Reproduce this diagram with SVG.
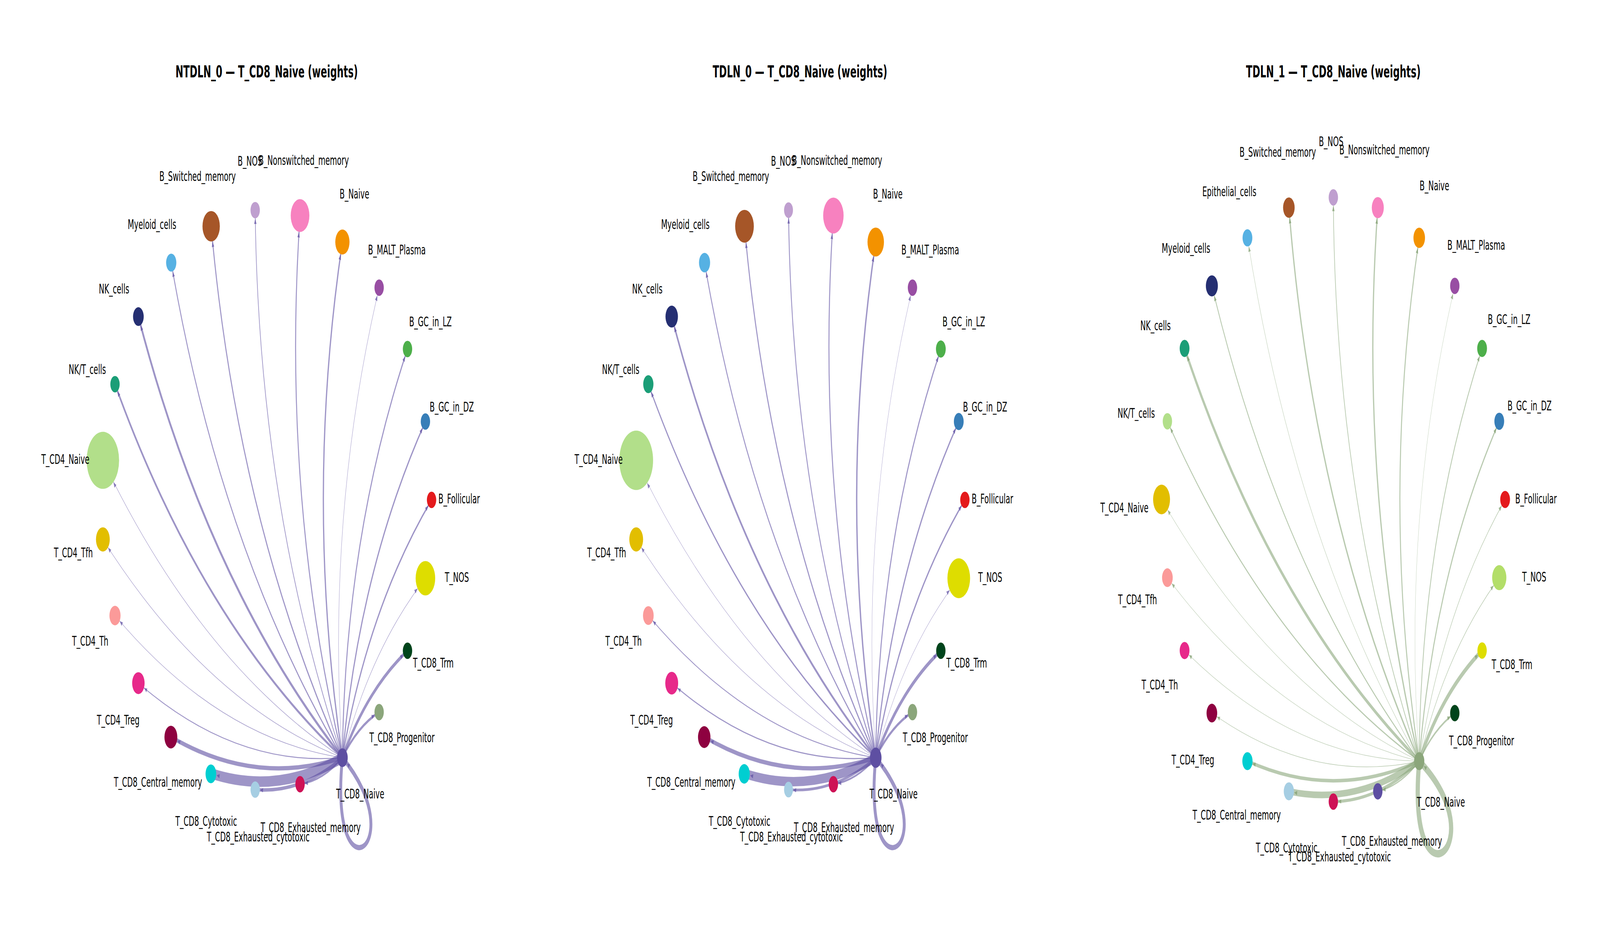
<svg xmlns="http://www.w3.org/2000/svg" width="7200" height="2400" viewBox="0 0 7200 2400" preserveAspectRatio="none">
<style>
svg{width:100vw;height:100vh}
.bg{fill:#ffffff}
.title{font-family:"DejaVu Sans","Liberation Sans",sans-serif;font-weight:bold;font-size:42px;fill:#000;text-anchor:middle}
.lbl{font-family:"DejaVu Sans","Liberation Sans",sans-serif;font-size:33px;fill:#000;text-anchor:middle;dominant-baseline:central}
.ep{fill:none;stroke:#5e4fa2;stroke-opacity:0.6}
.eg{fill:none;stroke:#8ba67b;stroke-opacity:0.6}
.ahp{fill:#5e4fa2;fill-opacity:0.7}
.ahg{fill:#7f9c6e;fill-opacity:0.7}
</style>
<defs>
<marker id="p20" markerUnits="userSpaceOnUse" viewBox="-120 -10 120 20" markerWidth="120" markerHeight="20" refX="0" refY="0" orient="auto" overflow="visible"><path class="ahp" d="M-21 0L-34.3 -5.5L-34.3 5.5Z"/></marker>
<marker id="p21" markerUnits="userSpaceOnUse" viewBox="-120 -10 120 20" markerWidth="120" markerHeight="20" refX="0" refY="0" orient="auto" overflow="visible"><path class="ahp" d="M-22 0L-35.3 -5.5L-35.3 5.5Z"/></marker>
<marker id="p22" markerUnits="userSpaceOnUse" viewBox="-120 -10 120 20" markerWidth="120" markerHeight="20" refX="0" refY="0" orient="auto" overflow="visible"><path class="ahp" d="M-23 0L-36.3 -5.5L-36.3 5.5Z"/></marker>
<marker id="p23" markerUnits="userSpaceOnUse" viewBox="-120 -10 120 20" markerWidth="120" markerHeight="20" refX="0" refY="0" orient="auto" overflow="visible"><path class="ahp" d="M-24 0L-37.3 -5.5L-37.3 5.5Z"/></marker>
<marker id="p24" markerUnits="userSpaceOnUse" viewBox="-120 -10 120 20" markerWidth="120" markerHeight="20" refX="0" refY="0" orient="auto" overflow="visible"><path class="ahp" d="M-25 0L-38.3 -5.5L-38.3 5.5Z"/></marker>
<marker id="p25" markerUnits="userSpaceOnUse" viewBox="-120 -10 120 20" markerWidth="120" markerHeight="20" refX="0" refY="0" orient="auto" overflow="visible"><path class="ahp" d="M-26 0L-39.3 -5.5L-39.3 5.5Z"/></marker>
<marker id="p26" markerUnits="userSpaceOnUse" viewBox="-120 -10 120 20" markerWidth="120" markerHeight="20" refX="0" refY="0" orient="auto" overflow="visible"><path class="ahp" d="M-27 0L-40.3 -5.5L-40.3 5.5Z"/></marker>
<marker id="p28" markerUnits="userSpaceOnUse" viewBox="-120 -10 120 20" markerWidth="120" markerHeight="20" refX="0" refY="0" orient="auto" overflow="visible"><path class="ahp" d="M-29 0L-42.3 -5.5L-42.3 5.5Z"/></marker>
<marker id="p29" markerUnits="userSpaceOnUse" viewBox="-120 -10 120 20" markerWidth="120" markerHeight="20" refX="0" refY="0" orient="auto" overflow="visible"><path class="ahp" d="M-30 0L-43.3 -5.5L-43.3 5.5Z"/></marker>
<marker id="p31" markerUnits="userSpaceOnUse" viewBox="-120 -10 120 20" markerWidth="120" markerHeight="20" refX="0" refY="0" orient="auto" overflow="visible"><path class="ahp" d="M-32 0L-45.3 -5.5L-45.3 5.5Z"/></marker>
<marker id="p32" markerUnits="userSpaceOnUse" viewBox="-120 -10 120 20" markerWidth="120" markerHeight="20" refX="0" refY="0" orient="auto" overflow="visible"><path class="ahp" d="M-33 0L-46.3 -5.5L-46.3 5.5Z"/></marker>
<marker id="p37" markerUnits="userSpaceOnUse" viewBox="-120 -10 120 20" markerWidth="120" markerHeight="20" refX="0" refY="0" orient="auto" overflow="visible"><path class="ahp" d="M-38 0L-51.3 -5.5L-51.3 5.5Z"/></marker>
<marker id="p39" markerUnits="userSpaceOnUse" viewBox="-120 -10 120 20" markerWidth="120" markerHeight="20" refX="0" refY="0" orient="auto" overflow="visible"><path class="ahp" d="M-40 0L-53.3 -5.5L-53.3 5.5Z"/></marker>
<marker id="p42" markerUnits="userSpaceOnUse" viewBox="-120 -10 120 20" markerWidth="120" markerHeight="20" refX="0" refY="0" orient="auto" overflow="visible"><path class="ahp" d="M-43 0L-56.3 -5.5L-56.3 5.5Z"/></marker>
<marker id="p44" markerUnits="userSpaceOnUse" viewBox="-120 -10 120 20" markerWidth="120" markerHeight="20" refX="0" refY="0" orient="auto" overflow="visible"><path class="ahp" d="M-45 0L-58.3 -5.5L-58.3 5.5Z"/></marker>
<marker id="p46" markerUnits="userSpaceOnUse" viewBox="-120 -10 120 20" markerWidth="120" markerHeight="20" refX="0" refY="0" orient="auto" overflow="visible"><path class="ahp" d="M-47 0L-60.3 -5.5L-60.3 5.5Z"/></marker>
<marker id="p51" markerUnits="userSpaceOnUse" viewBox="-120 -10 120 20" markerWidth="120" markerHeight="20" refX="0" refY="0" orient="auto" overflow="visible"><path class="ahp" d="M-52 0L-65.3 -5.5L-65.3 5.5Z"/></marker>
<marker id="p73" markerUnits="userSpaceOnUse" viewBox="-120 -10 120 20" markerWidth="120" markerHeight="20" refX="0" refY="0" orient="auto" overflow="visible"><path class="ahp" d="M-74 0L-87.3 -5.5L-87.3 5.5Z"/></marker>
<marker id="p76" markerUnits="userSpaceOnUse" viewBox="-120 -10 120 20" markerWidth="120" markerHeight="20" refX="0" refY="0" orient="auto" overflow="visible"><path class="ahp" d="M-77 0L-90.3 -5.5L-90.3 5.5Z"/></marker>
<marker id="g21" markerUnits="userSpaceOnUse" viewBox="-120 -10 120 20" markerWidth="120" markerHeight="20" refX="0" refY="0" orient="auto" overflow="visible"><path class="ahg" d="M-22 0L-35.3 -5.5L-35.3 5.5Z"/></marker>
<marker id="g22" markerUnits="userSpaceOnUse" viewBox="-120 -10 120 20" markerWidth="120" markerHeight="20" refX="0" refY="0" orient="auto" overflow="visible"><path class="ahg" d="M-23 0L-36.3 -5.5L-36.3 5.5Z"/></marker>
<marker id="g23" markerUnits="userSpaceOnUse" viewBox="-120 -10 120 20" markerWidth="120" markerHeight="20" refX="0" refY="0" orient="auto" overflow="visible"><path class="ahg" d="M-24 0L-37.3 -5.5L-37.3 5.5Z"/></marker>
<marker id="g24" markerUnits="userSpaceOnUse" viewBox="-120 -10 120 20" markerWidth="120" markerHeight="20" refX="0" refY="0" orient="auto" overflow="visible"><path class="ahg" d="M-25 0L-38.3 -5.5L-38.3 5.5Z"/></marker>
<marker id="g26" markerUnits="userSpaceOnUse" viewBox="-120 -10 120 20" markerWidth="120" markerHeight="20" refX="0" refY="0" orient="auto" overflow="visible"><path class="ahg" d="M-27 0L-40.3 -5.5L-40.3 5.5Z"/></marker>
<marker id="g27" markerUnits="userSpaceOnUse" viewBox="-120 -10 120 20" markerWidth="120" markerHeight="20" refX="0" refY="0" orient="auto" overflow="visible"><path class="ahg" d="M-28 0L-41.3 -5.5L-41.3 5.5Z"/></marker>
<marker id="g32" markerUnits="userSpaceOnUse" viewBox="-120 -10 120 20" markerWidth="120" markerHeight="20" refX="0" refY="0" orient="auto" overflow="visible"><path class="ahg" d="M-33 0L-46.3 -5.5L-46.3 5.5Z"/></marker>
<marker id="g38" markerUnits="userSpaceOnUse" viewBox="-120 -10 120 20" markerWidth="120" markerHeight="20" refX="0" refY="0" orient="auto" overflow="visible"><path class="ahg" d="M-39 0L-52.3 -5.5L-52.3 5.5Z"/></marker>
</defs>
<rect class="bg" x="0" y="0" width="7200" height="2400"/>

<text class="title" x="1200" y="198">NTDLN_0 — T_CD8_Naive (weights)</text>
<text class="title" x="3600" y="198">TDLN_0 — T_CD8_Naive (weights)</text>
<text class="title" x="6000" y="198">TDLN_1 — T_CD8_Naive (weights)</text>

<!-- PANEL 1 -->
<g id="panel1" transform="translate(1199 1279)">
<g id="p1-connectors">
<path class="ep" stroke-width="5" marker-end="url(#p21)" d="M341.8 659.7Q456.6 277.7 743 0"/>
<path class="ep" stroke-width="5" marker-end="url(#p21)" d="M341.8 659.7Q416.8 181 715.4 -200.5"/>
<path class="ep" stroke-width="4.5" marker-end="url(#p21)" d="M341.8 659.7Q352.4 98.8 634.8 -386"/>
<path class="ep" stroke-width="1.5" marker-end="url(#p21)" d="M341.8 659.7Q268.1 36.9 507.1 -543"/>
<path class="ep" stroke-width="5.5" marker-end="url(#p32)" d="M341.8 659.7Q170.3 0 341.8 -659.7"/>
<path class="ep" stroke-width="4.5" marker-end="url(#p42)" d="M341.8 659.7Q66.2 -9.1 151.2 -727.5"/>
<path class="ep" stroke-width="3" marker-end="url(#p21)" d="M341.8 659.7Q-36.6 10.2 -50.7 -741.3"/>
<path class="ep" stroke-width="4.5" marker-end="url(#p39)" d="M341.8 659.7Q-130.3 56.6 -248.8 -700.1"/>
<path class="ep" stroke-width="4" marker-end="url(#p23)" d="M341.8 659.7Q-208 126.5 -428.5 -607"/>
<path class="ep" stroke-width="7.5" marker-end="url(#p24)" d="M341.8 659.7Q-264 214.8 -576.3 -468.9"/>
<path class="ep" stroke-width="6.5" marker-end="url(#p21)" d="M341.8 659.7Q-294.1 314.9 -681.5 -296"/>
<path class="ep" stroke-width="1.5" marker-end="url(#p73)" d="M341.8 659.7Q-296.1 419.4 -736.1 -101.2"/>
<path class="ep" stroke-width="1.5" marker-end="url(#p31)" d="M341.8 659.7Q-269.8 520.6 -736.1 101.2"/>
<path class="ep" stroke-width="1.5" marker-end="url(#p25)" d="M341.8 659.7Q-217.1 610.9 -681.5 296"/>
<path class="ep" stroke-width="2.5" marker-end="url(#p28)" d="M341.8 659.7Q-142.1 683.7 -576.3 468.9"/>
<path class="ep" stroke-width="11" marker-end="url(#p28)" d="M341.8 659.7Q-50.2 733.5 -428.5 607"/>
<path class="ep" stroke-width="27" marker-end="url(#p24)" d="M341.8 659.7Q51.8 756.7 -248.8 700.1"/>
<path class="ep" stroke-width="9" marker-end="url(#p21)" d="M341.8 659.7Q156.2 751.5 -50.7 741.3"/>
<path class="ep" stroke-width="5" marker-end="url(#p21)" d="M341.8 659.7Q255.3 718.4 151.2 727.5"/>
<path class="ep" stroke-width="7" marker-end="url(#p21)" d="M341.8 659.7Q409.3 579.9 507.1 543"/>
<path class="ep" stroke-width="9.5" marker-end="url(#p21)" d="M341.8 659.7Q452.7 484.8 634.8 386"/>
<path class="ep" stroke-width="1.5" marker-end="url(#p44)" d="M341.8 659.7Q468.9 381.5 715.4 200.5"/>
<path class="ep" stroke-width="13" marker-end="url(#p24)" d="M341.8 659.7C276.9 1041.9 660.5 880.5 341.8 659.7"/>
</g>
<g id="p1-B_Follicular"><circle cx="743" cy="0" r="21" fill="#e41a1c"/><text class="lbl" x="867" y="-3">B_Follicular</text></g>
<g id="p1-B_GC_in_DZ"><circle cx="715.4" cy="-200.5" r="21" fill="#377eb8"/><text class="lbl" x="834" y="-238">B_GC_in_DZ</text></g>
<g id="p1-B_GC_in_LZ"><circle cx="634.8" cy="-386" r="21" fill="#4daf4a"/><text class="lbl" x="738" y="-456">B_GC_in_LZ</text></g>
<g id="p1-B_MALT_Plasma"><circle cx="507.1" cy="-543" r="21" fill="#984ea3"/><text class="lbl" x="587" y="-640">B_MALT_Plasma</text></g>
<g id="p1-B_Naive"><circle cx="341.8" cy="-659.7" r="32" fill="#f39200"/><text class="lbl" x="396" y="-783">B_Naive</text></g>
<g id="p1-B_Nonswitched_memory"><circle cx="151.2" cy="-727.5" r="42" fill="#f781bf"/><text class="lbl" x="168" y="-869">B_Nonswitched_memory</text></g>
<g id="p1-B_NOS"><circle cx="-50.7" cy="-741.3" r="21" fill="#bf9fcf"/><text class="lbl" x="-74" y="-867">B_NOS</text></g>
<g id="p1-B_Switched_memory"><circle cx="-248.8" cy="-700.1" r="39" fill="#a65628"/><text class="lbl" x="-310" y="-828">B_Switched_memory</text></g>
<g id="p1-Myeloid_cells"><circle cx="-428.5" cy="-607" r="23" fill="#56b1e3"/><text class="lbl" x="-515" y="-705">Myeloid_cells</text></g>
<g id="p1-NK_cells"><circle cx="-576.3" cy="-468.9" r="24" fill="#252f72"/><text class="lbl" x="-686" y="-540">NK_cells</text></g>
<g id="p1-NKT_cells"><circle cx="-681.5" cy="-296" r="21" fill="#1b9e77"/><text class="lbl" x="-806" y="-334">NK/T_cells</text></g>
<g id="p1-T_CD4_Naive"><circle cx="-736.1" cy="-101.2" r="73" fill="#b2df8a"/><text class="lbl" x="-905" y="-104">T_CD4_Naive</text></g>
<g id="p1-T_CD4_Tfh"><circle cx="-736.1" cy="101.2" r="31" fill="#e2be00"/><text class="lbl" x="-869" y="135">T_CD4_Tfh</text></g>
<g id="p1-T_CD4_Th"><circle cx="-681.5" cy="296" r="25" fill="#fb9a99"/><text class="lbl" x="-793" y="361">T_CD4_Th</text></g>
<g id="p1-T_CD4_Treg"><circle cx="-576.3" cy="468.9" r="28" fill="#e7298a"/><text class="lbl" x="-667" y="563">T_CD4_Treg</text></g>
<g id="p1-T_CD8_Central_memory"><circle cx="-430" cy="607" r="29" fill="#8e0140"/><text class="lbl" x="-488" y="722">T_CD8_Central_memory</text></g>
<g id="p1-T_CD8_Cytotoxic"><circle cx="-250" cy="701" r="24" fill="#00ced1"/><text class="lbl" x="-271" y="822">T_CD8_Cytotoxic</text></g>
<g id="p1-T_CD8_Exhausted_cytotoxic"><circle cx="-50.7" cy="741.3" r="21" fill="#a6cee3"/><text class="lbl" x="-37" y="862">T_CD8_Exhausted_cytotoxic</text></g>
<g id="p1-T_CD8_Exhausted_memory"><circle cx="151.2" cy="727.5" r="21" fill="#ce1256"/><text class="lbl" x="199" y="838">T_CD8_Exhausted_memory</text></g>
<g id="p1-T_CD8_Naive"><circle cx="341.8" cy="659.7" r="24" fill="#5e4fa2"/><text class="lbl" x="422" y="752">T_CD8_Naive</text></g>
<g id="p1-T_CD8_Progenitor"><circle cx="507.1" cy="543" r="21" fill="#8ba67b"/><text class="lbl" x="610" y="608">T_CD8_Progenitor</text></g>
<g id="p1-T_CD8_Trm"><circle cx="634.8" cy="386" r="21" fill="#00441b"/><text class="lbl" x="751" y="417">T_CD8_Trm</text></g>
<g id="p1-T_NOS"><circle cx="715.4" cy="200.5" r="44" fill="#dedd00"/><text class="lbl" x="857" y="198">T_NOS</text></g>
</g>

<!-- PANEL 2 -->
<g id="panel2" transform="translate(3599 1279)">
<g id="p2-connectors">
<path class="ep" stroke-width="5" marker-end="url(#p21)" d="M341.8 659.7Q456.6 277.7 743 0"/>
<path class="ep" stroke-width="5" marker-end="url(#p22)" d="M341.8 659.7Q416.8 181 715.4 -200.5"/>
<path class="ep" stroke-width="4.5" marker-end="url(#p22)" d="M341.8 659.7Q352.4 98.8 634.8 -386"/>
<path class="ep" stroke-width="1.2" marker-end="url(#p21)" d="M341.8 659.7Q268.1 36.9 507.1 -543"/>
<path class="ep" stroke-width="6" marker-end="url(#p37)" d="M341.8 659.7Q170.3 0 341.8 -659.7"/>
<path class="ep" stroke-width="4.5" marker-end="url(#p46)" d="M341.8 659.7Q66.2 -9.1 151.2 -727.5"/>
<path class="ep" stroke-width="4" marker-end="url(#p20)" d="M341.8 659.7Q-36.6 10.2 -50.7 -741.3"/>
<path class="ep" stroke-width="4.5" marker-end="url(#p42)" d="M341.8 659.7Q-130.3 56.6 -248.8 -700.1"/>
<path class="ep" stroke-width="4" marker-end="url(#p25)" d="M341.8 659.7Q-208 126.5 -428.5 -607"/>
<path class="ep" stroke-width="6.5" marker-end="url(#p28)" d="M341.8 659.7Q-264 214.8 -576.3 -468.9"/>
<path class="ep" stroke-width="4.5" marker-end="url(#p23)" d="M341.8 659.7Q-294.1 314.9 -681.5 -296"/>
<path class="ep" stroke-width="1.2" marker-end="url(#p76)" d="M341.8 659.7Q-296.1 419.4 -736.1 -101.2"/>
<path class="ep" stroke-width="1.2" marker-end="url(#p31)" d="M341.8 659.7Q-269.8 520.6 -736.1 101.2"/>
<path class="ep" stroke-width="2.5" marker-end="url(#p24)" d="M341.8 659.7Q-217.1 610.9 -681.5 296"/>
<path class="ep" stroke-width="3" marker-end="url(#p29)" d="M341.8 659.7Q-142.1 683.7 -576.3 468.9"/>
<path class="ep" stroke-width="11" marker-end="url(#p28)" d="M341.8 659.7Q-50.2 733.5 -428.5 607"/>
<path class="ep" stroke-width="24" marker-end="url(#p25)" d="M341.8 659.7Q51.8 756.7 -248.8 700.1"/>
<path class="ep" stroke-width="7" marker-end="url(#p20)" d="M341.8 659.7Q156.2 751.5 -50.7 741.3"/>
<path class="ep" stroke-width="5" marker-end="url(#p21)" d="M341.8 659.7Q255.3 718.4 151.2 727.5"/>
<path class="ep" stroke-width="7" marker-end="url(#p21)" d="M341.8 659.7Q409.3 579.9 507.1 543"/>
<path class="ep" stroke-width="10" marker-end="url(#p21)" d="M341.8 659.7Q452.7 484.8 634.8 386"/>
<path class="ep" stroke-width="1.2" marker-end="url(#p51)" d="M341.8 659.7Q468.9 381.5 715.4 200.5"/>
<path class="ep" stroke-width="13" marker-end="url(#p26)" d="M341.8 659.7C276.9 1041.9 660.5 880.5 341.8 659.7"/>
</g>
<g id="p2-B_Follicular"><circle cx="743" cy="0" r="21" fill="#e41a1c"/><text class="lbl" x="867" y="-3">B_Follicular</text></g>
<g id="p2-B_GC_in_DZ"><circle cx="715.4" cy="-200.5" r="22" fill="#377eb8"/><text class="lbl" x="834" y="-238">B_GC_in_DZ</text></g>
<g id="p2-B_GC_in_LZ"><circle cx="634.8" cy="-386" r="22" fill="#4daf4a"/><text class="lbl" x="738" y="-456">B_GC_in_LZ</text></g>
<g id="p2-B_MALT_Plasma"><circle cx="507.1" cy="-543" r="21" fill="#984ea3"/><text class="lbl" x="587" y="-640">B_MALT_Plasma</text></g>
<g id="p2-B_Naive"><circle cx="341.8" cy="-659.7" r="37" fill="#f39200"/><text class="lbl" x="396" y="-783">B_Naive</text></g>
<g id="p2-B_Nonswitched_memory"><circle cx="151.2" cy="-727.5" r="46" fill="#f781bf"/><text class="lbl" x="168" y="-869">B_Nonswitched_memory</text></g>
<g id="p2-B_NOS"><circle cx="-50.7" cy="-741.3" r="20" fill="#bf9fcf"/><text class="lbl" x="-74" y="-867">B_NOS</text></g>
<g id="p2-B_Switched_memory"><circle cx="-248.8" cy="-700.1" r="42" fill="#a65628"/><text class="lbl" x="-310" y="-828">B_Switched_memory</text></g>
<g id="p2-Myeloid_cells"><circle cx="-428.5" cy="-607" r="25" fill="#56b1e3"/><text class="lbl" x="-515" y="-705">Myeloid_cells</text></g>
<g id="p2-NK_cells"><circle cx="-576.3" cy="-468.9" r="28" fill="#252f72"/><text class="lbl" x="-686" y="-540">NK_cells</text></g>
<g id="p2-NKT_cells"><circle cx="-681.5" cy="-296" r="23" fill="#1b9e77"/><text class="lbl" x="-806" y="-334">NK/T_cells</text></g>
<g id="p2-T_CD4_Naive"><circle cx="-736.1" cy="-101.2" r="76" fill="#b2df8a"/><text class="lbl" x="-905" y="-104">T_CD4_Naive</text></g>
<g id="p2-T_CD4_Tfh"><circle cx="-736.1" cy="101.2" r="31" fill="#e2be00"/><text class="lbl" x="-869" y="135">T_CD4_Tfh</text></g>
<g id="p2-T_CD4_Th"><circle cx="-681.5" cy="296" r="24" fill="#fb9a99"/><text class="lbl" x="-793" y="361">T_CD4_Th</text></g>
<g id="p2-T_CD4_Treg"><circle cx="-576.3" cy="468.9" r="29" fill="#e7298a"/><text class="lbl" x="-667" y="563">T_CD4_Treg</text></g>
<g id="p2-T_CD8_Central_memory"><circle cx="-430" cy="607" r="28" fill="#8e0140"/><text class="lbl" x="-488" y="722">T_CD8_Central_memory</text></g>
<g id="p2-T_CD8_Cytotoxic"><circle cx="-250" cy="701" r="25" fill="#00ced1"/><text class="lbl" x="-271" y="822">T_CD8_Cytotoxic</text></g>
<g id="p2-T_CD8_Exhausted_cytotoxic"><circle cx="-50.7" cy="741.3" r="20" fill="#a6cee3"/><text class="lbl" x="-37" y="862">T_CD8_Exhausted_cytotoxic</text></g>
<g id="p2-T_CD8_Exhausted_memory"><circle cx="151.2" cy="727.5" r="21" fill="#ce1256"/><text class="lbl" x="199" y="838">T_CD8_Exhausted_memory</text></g>
<g id="p2-T_CD8_Naive"><circle cx="341.8" cy="659.7" r="26" fill="#5e4fa2"/><text class="lbl" x="422" y="752">T_CD8_Naive</text></g>
<g id="p2-T_CD8_Progenitor"><circle cx="507.1" cy="543" r="21" fill="#8ba67b"/><text class="lbl" x="610" y="608">T_CD8_Progenitor</text></g>
<g id="p2-T_CD8_Trm"><circle cx="634.8" cy="386" r="21" fill="#00441b"/><text class="lbl" x="751" y="417">T_CD8_Trm</text></g>
<g id="p2-T_NOS"><circle cx="715.4" cy="200.5" r="51" fill="#dedd00"/><text class="lbl" x="857" y="198">T_NOS</text></g>
</g>

<!-- PANEL 3 -->
<g id="panel3" transform="translate(6000 1278)">
<g id="p3-connectors">
<path class="eg" stroke-width="2" marker-end="url(#g22)" d="M386.5 669.4Q492.7 284.5 773 0"/>
<path class="eg" stroke-width="4.5" marker-end="url(#g21)" d="M386.5 669.4Q453.6 187.8 746.7 -200.1"/>
<path class="eg" stroke-width="3.5" marker-end="url(#g22)" d="M386.5 669.4Q390.7 104.7 669.4 -386.5"/>
<path class="eg" stroke-width="1.2" marker-end="url(#g21)" d="M386.5 669.4Q308.5 40.6 546.6 -546.6"/>
<path class="eg" stroke-width="4.5" marker-end="url(#g26)" d="M386.5 669.4Q212.5 0 386.5 -669.4"/>
<path class="eg" stroke-width="5.5" marker-end="url(#g27)" d="M386.5 669.4Q109.2 -14.4 200.1 -746.7"/>
<path class="eg" stroke-width="3" marker-end="url(#g21)" d="M386.5 669.4Q5.7 -1.6 0 -773"/>
<path class="eg" stroke-width="5.5" marker-end="url(#g26)" d="M386.5 669.4Q-90.9 37.6 -200.1 -746.7"/>
<path class="eg" stroke-width="1.5" marker-end="url(#g22)" d="M386.5 669.4Q-174 100.5 -386.5 -669.4"/>
<path class="eg" stroke-width="3.5" marker-end="url(#g27)" d="M386.5 669.4Q-238.2 182.7 -546.6 -546.6"/>
<path class="eg" stroke-width="9" marker-end="url(#g22)" d="M386.5 669.4Q-278.7 278.7 -669.4 -386.5"/>
<path class="eg" stroke-width="3.5" marker-end="url(#g21)" d="M386.5 669.4Q-293.1 382 -746.7 -200.1"/>
<path class="eg" stroke-width="1.2" marker-end="url(#g38)" d="M386.5 669.4Q-280.3 485.4 -773 0"/>
<path class="eg" stroke-width="1.2" marker-end="url(#g24)" d="M386.5 669.4Q-241.1 582.1 -746.7 200.1"/>
<path class="eg" stroke-width="1.2" marker-end="url(#g22)" d="M386.5 669.4Q-178.3 665.2 -669.4 386.5"/>
<path class="eg" stroke-width="1.5" marker-end="url(#g24)" d="M386.5 669.4Q-96.1 729.3 -546.6 546.6"/>
<path class="eg" stroke-width="9" marker-end="url(#g23)" d="M386.5 669.4Q0 769.9 -386.5 669.4"/>
<path class="eg" stroke-width="17" marker-end="url(#g23)" d="M386.5 669.4Q103.2 784.4 -200.1 746.7"/>
<path class="eg" stroke-width="8" marker-end="url(#g21)" d="M386.5 669.4Q206.7 771.4 0 773"/>
<path class="eg" stroke-width="3.5" marker-end="url(#g21)" d="M386.5 669.4Q303.3 732.3 200.1 746.7"/>
<path class="eg" stroke-width="5" marker-end="url(#g21)" d="M386.5 669.4Q450.6 587.2 546.6 546.6"/>
<path class="eg" stroke-width="12" marker-end="url(#g21)" d="M386.5 669.4Q491.2 491.2 669.4 386.5"/>
<path class="eg" stroke-width="2" marker-end="url(#g32)" d="M386.5 669.4Q505.6 387.9 746.7 200.1"/>
<path class="eg" stroke-width="19" marker-end="url(#g23)" d="M386.5 669.4C322.9 1075.5 739.3 880.5 386.5 669.4"/>
</g>
<g id="p3-B_Follicular"><circle cx="773" cy="0" r="22" fill="#e41a1c"/><text class="lbl" x="912" y="-2">B_Follicular</text></g>
<g id="p3-B_GC_in_DZ"><circle cx="746.7" cy="-200.1" r="22" fill="#377eb8"/><text class="lbl" x="883" y="-240">B_GC_in_DZ</text></g>
<g id="p3-B_GC_in_LZ"><circle cx="669.4" cy="-386.5" r="22" fill="#4daf4a"/><text class="lbl" x="791" y="-461">B_GC_in_LZ</text></g>
<g id="p3-B_MALT_Plasma"><circle cx="546.6" cy="-546.6" r="21" fill="#984ea3"/><text class="lbl" x="643" y="-651">B_MALT_Plasma</text></g>
<g id="p3-B_Naive"><circle cx="386.5" cy="-669.4" r="26" fill="#f39200"/><text class="lbl" x="455" y="-803">B_Naive</text></g>
<g id="p3-B_Nonswitched_memory"><circle cx="200.1" cy="-746.7" r="27" fill="#f781bf"/><text class="lbl" x="230" y="-895">B_Nonswitched_memory</text></g>
<g id="p3-B_NOS"><circle cx="0" cy="-773" r="21" fill="#bf9fcf"/><text class="lbl" x="-10" y="-916">B_NOS</text></g>
<g id="p3-B_Switched_memory"><circle cx="-200.1" cy="-746.7" r="26" fill="#a65628"/><text class="lbl" x="-250" y="-889">B_Switched_memory</text></g>
<g id="p3-Epithelial_cells"><circle cx="-386.5" cy="-669.4" r="22" fill="#56b1e3"/><text class="lbl" x="-468" y="-788">Epithelial_cells</text></g>
<g id="p3-Myeloid_cells"><circle cx="-546.6" cy="-546.6" r="27" fill="#252f72"/><text class="lbl" x="-663" y="-643">Myeloid_cells</text></g>
<g id="p3-NK_cells"><circle cx="-669.4" cy="-386.5" r="22" fill="#1b9e77"/><text class="lbl" x="-800" y="-445">NK_cells</text></g>
<g id="p3-NKT_cells"><circle cx="-746.7" cy="-200.1" r="21" fill="#b2df8a"/><text class="lbl" x="-887" y="-221">NK/T_cells</text></g>
<g id="p3-T_CD4_Naive"><circle cx="-773" cy="0" r="38" fill="#e2be00"/><text class="lbl" x="-940" y="21">T_CD4_Naive</text></g>
<g id="p3-T_CD4_Tfh"><circle cx="-746.7" cy="200.1" r="24" fill="#fb9a99"/><text class="lbl" x="-881" y="256">T_CD4_Tfh</text></g>
<g id="p3-T_CD4_Th"><circle cx="-669.4" cy="386.5" r="22" fill="#e7298a"/><text class="lbl" x="-781" y="474">T_CD4_Th</text></g>
<g id="p3-T_CD4_Treg"><circle cx="-546.6" cy="546.6" r="24" fill="#8e0140"/><text class="lbl" x="-632" y="666">T_CD4_Treg</text></g>
<g id="p3-T_CD8_Central_memory"><circle cx="-386.5" cy="669.4" r="23" fill="#00ced1"/><text class="lbl" x="-435" y="807">T_CD8_Central_memory</text></g>
<g id="p3-T_CD8_Cytotoxic"><circle cx="-200.1" cy="746.7" r="23" fill="#a6cee3"/><text class="lbl" x="-210" y="891">T_CD8_Cytotoxic</text></g>
<g id="p3-T_CD8_Exhausted_cytotoxic"><circle cx="0" cy="773" r="21" fill="#ce1256"/><text class="lbl" x="28" y="914">T_CD8_Exhausted_cytotoxic</text></g>
<g id="p3-T_CD8_Exhausted_memory"><circle cx="200.1" cy="746.7" r="21" fill="#5e4fa2"/><text class="lbl" x="264" y="874">T_CD8_Exhausted_memory</text></g>
<g id="p3-T_CD8_Naive"><circle cx="386.5" cy="669.4" r="23" fill="#8ba67b"/><text class="lbl" x="484" y="774">T_CD8_Naive</text></g>
<g id="p3-T_CD8_Progenitor"><circle cx="546.6" cy="546.6" r="21" fill="#00441b"/><text class="lbl" x="667" y="617">T_CD8_Progenitor</text></g>
<g id="p3-T_CD8_Trm"><circle cx="669.4" cy="386.5" r="21" fill="#dedd00"/><text class="lbl" x="804" y="422">T_CD8_Trm</text></g>
<g id="p3-T_NOS"><circle cx="746.7" cy="200.1" r="32" fill="#b3de69"/><text class="lbl" x="904" y="198">T_NOS</text></g>
</g>
</svg>
